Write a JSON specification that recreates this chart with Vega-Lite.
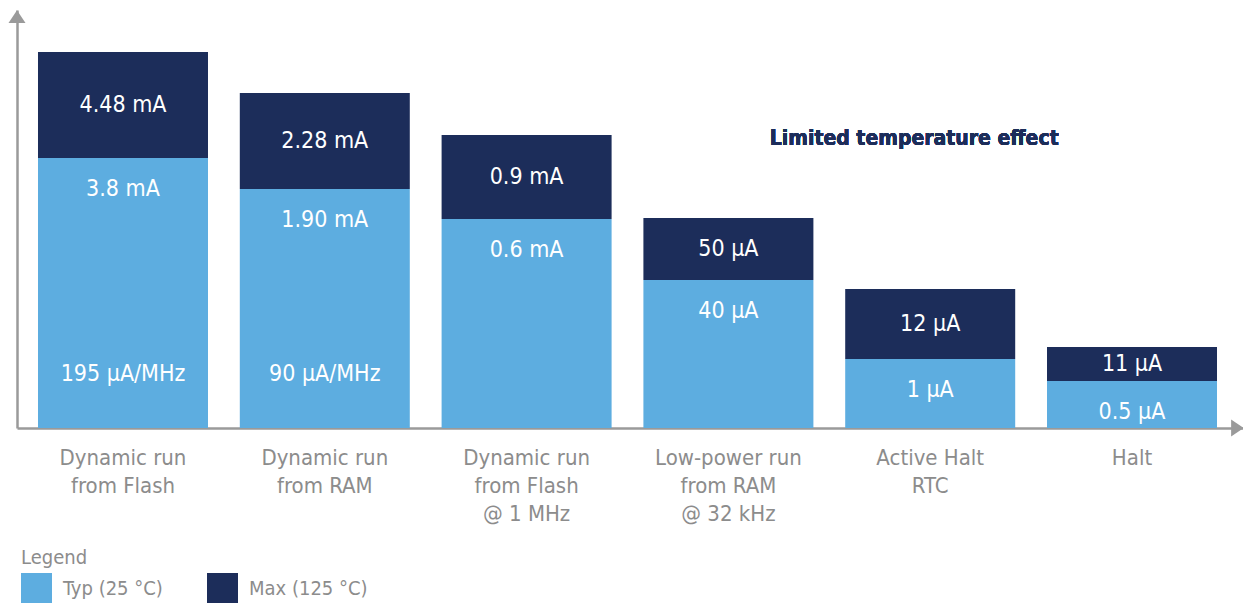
{
  "$schema": "https://vega.github.io/schema/vega-lite/v6.json",
  "width": 1227,
  "height": 418,
  "padding": {"left": 8, "top": 10, "right": 0, "bottom": 0},
  "autosize": {"type": "pad"},
  "background": "white",
  "config": {
    "view": {"stroke": null},
    "font": "'DejaVu Sans Condensed', 'Liberation Sans', sans-serif",
    "legend": {
      "orient": "none",
      "legendX": 4,
      "legendY": 538,
      "direction": "horizontal",
      "titleFontSize": 20,
      "titleFontWeight": "normal",
      "titleColor": "#8c8c8c",
      "titlePadding": 5,
      "labelFontSize": 20,
      "labelColor": "#8c8c8c",
      "labelOffset": 11,
      "symbolType": "square",
      "symbolSize": 961,
      "symbolStrokeWidth": 0,
      "symbolOpacity": 1,
      "columnPadding": 44
    }
  },
  "datasets": {
    "bars": [
      {"cat": "Dynamic run|from Flash", "typ": 270, "max": 376, "typLabel": "3.8 mA", "maxLabel": "4.48 mA", "rateLabel": "195 µA/MHz"},
      {"cat": "Dynamic run|from RAM", "typ": 239, "max": 335, "typLabel": "1.90 mA", "maxLabel": "2.28 mA", "rateLabel": "90 µA/MHz"},
      {"cat": "Dynamic run|from Flash|@ 1 MHz", "typ": 209, "max": 293, "typLabel": "0.6 mA", "maxLabel": "0.9 mA", "rateLabel": ""},
      {"cat": "Low-power run|from RAM|@ 32 kHz", "typ": 148, "max": 210, "typLabel": "40 µA", "maxLabel": "50 µA", "rateLabel": ""},
      {"cat": "Active Halt|RTC", "typ": 69, "max": 139, "typLabel": "1 µA", "maxLabel": "12 µA", "rateLabel": ""},
      {"cat": "Halt", "typ": 47, "max": 81, "typLabel": "0.5 µA", "maxLabel": "11 µA", "rateLabel": ""}
    ],
    "arrows": [
      {"ax": 0, "ay": 411.5, "shape": "M-1,0.75L0,-0.75L1,0.75Z"},
      {"ax": 1220.5, "ay": 0, "shape": "M-0.75,-1L0.75,0L-0.75,1Z"}
    ]
  },
  "layer": [
    {
      "data": {"name": "bars"},
      "encoding": {
        "x": {
          "field": "cat",
          "type": "nominal",
          "sort": null,
          "scale": {"paddingInner": 0.1576, "paddingOuter": 0.1189, "align": 0.4375},
          "axis": {
            "title": null,
            "ticks": false,
            "labelAngle": 0,
            "labelExpr": "split(datum.label, '|')",
            "labelFontSize": 22,
            "labelColor": "#8c8c8c",
            "labelLineHeight": 28,
            "labelPadding": 19,
            "domainColor": "#9a9a9a",
            "domainWidth": 2.5
          }
        }
      },
      "layer": [
        {
          "mark": {"type": "bar"},
          "encoding": {
            "y": {
              "field": "typ",
              "type": "quantitative",
              "scale": {"domain": [0, 418], "nice": false, "zero": true},
              "axis": {"title": null, "labels": false, "ticks": false, "grid": false, "domainColor": "#9a9a9a", "domainWidth": 2.5}
            },
            "y2": {"datum": 0},
            "color": {
              "datum": "Typ (25 °C)",
              "type": "nominal",
              "scale": {"domain": ["Typ (25 °C)", "Max (125 °C)"], "range": ["#5dade0", "#1c2d5a"]},
              "legend": {"title": "Legend"}
            }
          }
        },
        {
          "mark": {"type": "bar"},
          "encoding": {
            "y": {"field": "max", "type": "quantitative"},
            "y2": {"field": "typ"},
            "color": {"datum": "Max (125 °C)", "type": "nominal"}
          }
        },
        {
          "transform": [{"calculate": "(datum.typ + datum.max) / 2", "as": "mid"}],
          "mark": {"type": "text", "color": "white", "fontSize": 23, "baseline": "middle"},
          "encoding": {
            "y": {"field": "mid", "type": "quantitative"},
            "text": {"field": "maxLabel"}
          }
        },
        {
          "mark": {"type": "text", "color": "white", "fontSize": 23, "baseline": "middle", "dy": 31},
          "encoding": {
            "y": {"field": "typ", "type": "quantitative"},
            "text": {"field": "typLabel"}
          }
        },
        {
          "mark": {"type": "text", "color": "white", "fontSize": 23, "baseline": "middle", "dy": -54},
          "encoding": {
            "y": {"datum": 0, "type": "quantitative"},
            "text": {"field": "rateLabel"}
          }
        },
        {
          "mark": {"type": "text", "text": "Limited temperature effect", "color": "#1c2d5a", "fontSize": 21, "fontWeight": "bold", "baseline": "middle", "dx": -16},
          "encoding": {
            "x": {"datum": "Active Halt|RTC", "type": "nominal"},
            "y": {"datum": 289, "type": "quantitative"}
          }
        }
      ]
    },
    {
      "data": {"name": "arrows"},
      "mark": {"type": "point", "filled": true, "color": "#9a9a9a", "opacity": 1, "size": 289},
      "encoding": {
        "x": {"field": "ax", "type": "quantitative", "scale": {"domain": [0, 1227], "nice": false}, "axis": null},
        "y": {"field": "ay", "type": "quantitative"},
        "shape": {"field": "shape", "type": "nominal", "scale": null, "legend": null}
      }
    }
  ],
  "resolve": {"scale": {"x": "independent"}}
}
